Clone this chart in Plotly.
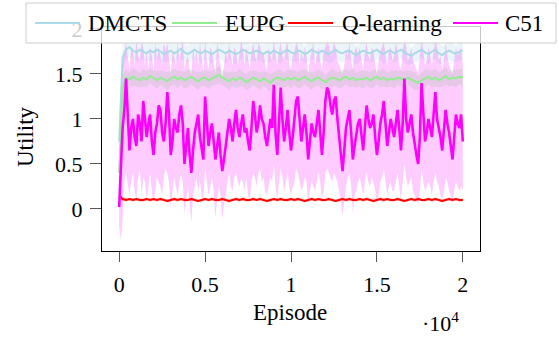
import plotly.graph_objects as go

# ---------------- data ----------------
episodes = [200 * i for i in range(101)]
episodes_c51 = [100 * i for i in range(201)]

dmcts = [0.75, 1.68, 1.77, 1.80, 1.76, 1.74, 1.77, 1.75, 1.73, 1.76,
         1.74, 1.77, 1.75, 1.72, 1.74, 1.76, 1.73, 1.75, 1.78, 1.74,
         1.72, 1.75, 1.77, 1.74, 1.73, 1.76, 1.74, 1.72, 1.75, 1.77,
         1.75, 1.73, 1.76, 1.74, 1.72, 1.74, 1.77, 1.75, 1.73, 1.74,
         1.76, 1.74, 1.72, 1.75, 1.73, 1.76, 1.74, 1.72, 1.75, 1.77,
         1.74, 1.73, 1.76, 1.75, 1.72, 1.74, 1.77, 1.75, 1.73, 1.76,
         1.74, 1.72, 1.75, 1.77, 1.74, 1.73, 1.75, 1.76, 1.73, 1.71,
         1.74, 1.76, 1.74, 1.73, 1.75, 1.77, 1.74, 1.72, 1.75, 1.76,
         1.73, 1.75, 1.77, 1.74, 1.72, 1.70, 1.73, 1.75, 1.77, 1.74,
         1.72, 1.75, 1.77, 1.73, 1.71, 1.74, 1.76, 1.74, 1.72, 1.75,
         1.76]
dmcts_sd = [0.30, 0.15, 0.10, 0.11, 0.09, 0.10, 0.12, 0.09, 0.10, 0.11,
            0.09, 0.10, 0.11, 0.09, 0.10, 0.12, 0.10, 0.09, 0.11, 0.10,
            0.09, 0.11, 0.10, 0.09, 0.12, 0.10, 0.09, 0.11, 0.10, 0.09,
            0.10, 0.11, 0.09, 0.10, 0.12, 0.09, 0.10, 0.11, 0.09, 0.10,
            0.11, 0.09, 0.10, 0.12, 0.10, 0.09, 0.11, 0.10, 0.09, 0.11,
            0.10, 0.09, 0.12, 0.10, 0.09, 0.11, 0.10, 0.09, 0.10, 0.11,
            0.09, 0.10, 0.12, 0.09, 0.10, 0.11, 0.09, 0.10, 0.11, 0.10,
            0.09, 0.11, 0.10, 0.09, 0.12, 0.10, 0.09, 0.11, 0.10, 0.09,
            0.10, 0.11, 0.09, 0.10, 0.12, 0.09, 0.10, 0.11, 0.09, 0.10,
            0.11, 0.09, 0.10, 0.12, 0.10, 0.09, 0.11, 0.10, 0.09, 0.10,
            0.10]

eupg = [0.40, 1.35, 1.46, 1.44, 1.47, 1.45, 1.43, 1.46, 1.44, 1.48,
        1.45, 1.43, 1.46, 1.44, 1.42, 1.45, 1.47, 1.44, 1.46, 1.43,
        1.45, 1.47, 1.44, 1.42, 1.45, 1.46, 1.43, 1.45, 1.47, 1.49,
        1.46, 1.44, 1.42, 1.45, 1.43, 1.46, 1.44, 1.41, 1.44, 1.46,
        1.44, 1.42, 1.45, 1.43, 1.40, 1.44, 1.46, 1.45, 1.43, 1.46,
        1.44, 1.46, 1.43, 1.45, 1.47, 1.44, 1.42, 1.45, 1.46, 1.43,
        1.41, 1.44, 1.46, 1.45, 1.43, 1.45, 1.47, 1.44, 1.46, 1.43,
        1.45, 1.44, 1.46, 1.43, 1.45, 1.47, 1.44, 1.46, 1.43, 1.45,
        1.44, 1.46, 1.45, 1.43, 1.46, 1.44, 1.42, 1.40, 1.43, 1.45,
        1.47, 1.44, 1.46, 1.43, 1.45, 1.48, 1.44, 1.46, 1.45, 1.47,
        1.46]
eupg_sd = [0.20, 0.15, 0.09, 0.08, 0.10, 0.09, 0.08, 0.10, 0.09, 0.08,
           0.09, 0.10, 0.08, 0.09, 0.10, 0.08, 0.09, 0.10, 0.08, 0.09,
           0.10, 0.08, 0.09, 0.10, 0.08, 0.09, 0.10, 0.08, 0.09, 0.10,
           0.08, 0.09, 0.10, 0.08, 0.09, 0.10, 0.08, 0.09, 0.10, 0.08,
           0.09, 0.10, 0.08, 0.09, 0.10, 0.08, 0.09, 0.10, 0.08, 0.09,
           0.10, 0.08, 0.09, 0.10, 0.08, 0.09, 0.10, 0.08, 0.09, 0.10,
           0.08, 0.09, 0.10, 0.08, 0.09, 0.10, 0.08, 0.09, 0.10, 0.08,
           0.09, 0.10, 0.08, 0.09, 0.10, 0.08, 0.09, 0.10, 0.08, 0.09,
           0.10, 0.08, 0.09, 0.10, 0.08, 0.09, 0.10, 0.08, 0.09, 0.10,
           0.08, 0.09, 0.10, 0.08, 0.09, 0.10, 0.08, 0.09, 0.10, 0.08,
           0.09]

qlearn = [0.15, 0.11, 0.10, 0.11, 0.10, 0.11, 0.10, 0.10, 0.11, 0.10,
          0.11, 0.10, 0.11, 0.10, 0.09, 0.10, 0.11, 0.10, 0.11, 0.10,
          0.10, 0.11, 0.10, 0.09, 0.10, 0.11, 0.10, 0.11, 0.10, 0.10,
          0.11, 0.10, 0.09, 0.10, 0.11, 0.10, 0.11, 0.10, 0.10, 0.11,
          0.10, 0.11, 0.10, 0.09, 0.10, 0.11, 0.10, 0.11, 0.10, 0.10,
          0.11, 0.10, 0.11, 0.10, 0.09, 0.10, 0.11, 0.10, 0.11, 0.10,
          0.10, 0.11, 0.10, 0.09, 0.10, 0.11, 0.10, 0.11, 0.10, 0.10,
          0.11, 0.10, 0.11, 0.10, 0.09, 0.10, 0.11, 0.10, 0.11, 0.10,
          0.10, 0.11, 0.10, 0.09, 0.10, 0.11, 0.10, 0.11, 0.10, 0.10,
          0.11, 0.10, 0.11, 0.10, 0.09, 0.10, 0.11, 0.10, 0.11, 0.10,
          0.10]
qlearn_sd = [0.04, 0.02, 0.02, 0.015, 0.02, 0.015, 0.02, 0.02, 0.015, 0.02,
             0.015, 0.02, 0.02, 0.015, 0.02, 0.015, 0.02, 0.02, 0.015, 0.02,
             0.015, 0.02, 0.02, 0.015, 0.02, 0.015, 0.02, 0.02, 0.015, 0.02,
             0.015, 0.02, 0.02, 0.015, 0.02, 0.015, 0.02, 0.02, 0.015, 0.02,
             0.015, 0.02, 0.02, 0.015, 0.02, 0.015, 0.02, 0.02, 0.015, 0.02,
             0.015, 0.02, 0.02, 0.015, 0.02, 0.015, 0.02, 0.02, 0.015, 0.02,
             0.015, 0.02, 0.02, 0.015, 0.02, 0.015, 0.02, 0.02, 0.015, 0.02,
             0.015, 0.02, 0.02, 0.015, 0.02, 0.015, 0.02, 0.02, 0.015, 0.02,
             0.015, 0.02, 0.02, 0.015, 0.02, 0.015, 0.02, 0.02, 0.015, 0.02,
             0.015, 0.02, 0.02, 0.015, 0.02, 0.015, 0.02, 0.02, 0.015, 0.02,
             0.02]

# C51 at finer resolution (every 100 episodes)
c51 = [0.02, 0.55, 0.90, 1.10, 1.45, 1.05, 0.65, 0.90, 1.00, 0.80,
       0.70, 1.05, 0.95, 0.75, 1.20, 1.00, 0.80, 0.95, 1.05, 0.75,
       0.60, 0.85, 0.95, 1.15, 1.10, 0.85, 0.75, 0.95, 1.30, 1.05,
       0.60, 0.75, 1.00, 0.90, 0.85, 1.05, 1.15, 0.95, 0.50, 0.70,
       0.90, 0.60, 0.40, 0.65, 0.85, 0.95, 1.05, 0.80, 0.65, 0.55,
       1.25, 0.95, 0.70, 0.85, 0.95, 0.75, 0.55, 0.70, 0.85, 0.60,
       0.42, 0.55, 0.70, 0.85, 1.00, 0.90, 0.75, 0.95, 1.10, 0.90,
       0.80, 0.95, 1.05, 0.85, 0.90, 0.75, 0.65, 0.90, 1.20, 1.05,
       0.85, 0.95, 1.15, 1.00, 0.95, 0.80, 0.70, 0.85, 1.00, 0.90,
       1.38, 0.85, 0.60, 0.95, 1.35, 1.00, 0.75, 0.90, 1.10, 0.85,
       0.65, 0.80, 1.00, 1.20, 1.25, 0.95, 0.75, 0.90, 1.05, 0.85,
       0.55, 0.75, 0.95, 0.85, 0.80, 0.95, 1.10, 0.85, 0.60, 0.85,
       1.20, 1.35, 1.30, 1.15, 1.05, 1.20, 1.25, 1.00, 0.80, 0.60,
       0.42, 0.65, 0.90, 1.00, 1.10, 0.85, 0.55, 0.70, 0.85, 0.95,
       1.00, 0.80, 0.65, 0.90, 1.15, 1.00, 0.90, 0.95, 1.05, 0.80,
       0.60, 0.75, 0.95, 1.05, 1.20, 0.95, 0.70, 0.85, 1.00, 0.90,
       0.80, 0.95, 1.10, 0.90, 0.65, 0.95, 1.45, 1.00, 0.85, 0.95,
       1.05, 0.85, 0.70, 0.60, 0.50, 0.80, 1.40, 1.00, 0.75, 0.85,
       1.00, 0.90, 0.80, 1.05, 1.30, 1.00, 0.90, 0.80, 0.65, 0.85,
       1.10, 0.95, 0.85, 0.70, 0.55, 0.80, 1.05, 0.95, 0.90, 1.05,
       0.75]
c51_upper = [0.40, 1.20, 1.60, 1.75, 1.85, 1.70, 1.55, 1.80, 1.75, 1.60,
             1.90, 1.70, 1.65, 1.85, 1.80, 1.60, 1.75, 1.55, 1.80, 1.70,
             1.55, 1.85, 1.65, 1.80, 1.70, 1.60, 1.88, 1.75, 1.85, 1.65,
             1.50, 1.75, 1.70, 1.60, 1.85, 1.65, 1.75, 1.90, 1.55, 1.65,
             1.70, 1.55, 1.50, 1.80, 1.65, 1.75, 1.60, 1.85, 1.70, 1.50,
             1.88, 1.65, 1.55, 1.80, 1.75, 1.60, 1.50, 1.85, 1.70, 1.55,
             1.45, 1.60, 1.75, 1.65, 1.85, 1.70, 1.60, 1.80, 1.75, 1.60,
             1.70, 1.90, 1.75, 1.60, 1.80, 1.65, 1.55, 1.75, 1.85, 1.70,
             1.65, 1.85, 1.80, 1.70, 1.75, 1.60, 1.55, 1.80, 1.70, 1.65,
             1.90, 1.70, 1.60, 1.75, 1.88, 1.70, 1.65, 1.80, 1.85, 1.60,
             1.55, 1.70, 1.75, 1.85, 1.80, 1.60, 1.75, 1.65, 1.80, 1.70,
             1.50, 1.65, 1.75, 1.85, 1.60, 1.70, 1.80, 1.65, 1.55, 1.75,
             1.80, 1.90, 1.85, 1.70, 1.75, 1.85, 1.80, 1.65, 1.60, 1.55,
             1.50, 1.60, 1.75, 1.70, 1.85, 1.65, 1.55, 1.75, 1.80, 1.70,
             1.80, 1.65, 1.55, 1.75, 1.85, 1.70, 1.65, 1.80, 1.75, 1.60,
             1.50, 1.65, 1.75, 1.80, 1.88, 1.70, 1.60, 1.75, 1.80, 1.65,
             1.70, 1.85, 1.75, 1.60, 1.55, 1.75, 1.90, 1.80, 1.65, 1.70,
             1.80, 1.65, 1.60, 1.55, 1.50, 1.70, 1.90, 1.75, 1.60, 1.65,
             1.80, 1.70, 1.60, 1.75, 1.88, 1.80, 1.65, 1.70, 1.55, 1.65,
             1.85, 1.70, 1.60, 1.55, 1.50, 1.65, 1.80, 1.70, 1.75, 1.80,
             1.60]
c51_lower = [-0.20, -0.35, -0.10, 0.30, 0.40, 0.25, 0.15, 0.30, 0.40, 0.20,
             0.10, 0.35, 0.45, 0.15, 0.35, 0.30, 0.10, 0.25, 0.40, 0.20,
             0.05, 0.20, 0.35, 0.30, 0.25, 0.15, 0.35, 0.45, 0.40, 0.30,
             0.00, 0.20, 0.35, 0.25, 0.15, 0.30, 0.40, 0.30, -0.05, 0.10,
             0.25, 0.05, -0.15, 0.15, 0.25, 0.35, 0.20, 0.30, 0.15, 0.10,
             0.45, 0.30, 0.15, 0.25, 0.35, 0.20, -0.10, 0.10, 0.25, 0.15,
             -0.12, 0.05, 0.15, 0.30, 0.40, 0.25, 0.20, 0.35, 0.40, 0.30,
             0.25, 0.35, 0.30, 0.20, 0.35, 0.15, 0.10, 0.30, 0.40, 0.35,
             0.25, 0.40, 0.45, 0.30, 0.35, 0.20, 0.15, 0.25, 0.35, 0.30,
             0.50, 0.25, 0.10, 0.30, 0.45, 0.35, 0.20, 0.30, 0.40, 0.25,
             0.15, 0.25, 0.30, 0.45, 0.40, 0.30, 0.20, 0.25, 0.35, 0.30,
             0.05, 0.20, 0.30, 0.25, 0.20, 0.30, 0.40, 0.30, 0.10, 0.20,
             0.40, 0.45, 0.40, 0.35, 0.30, 0.40, 0.35, 0.30, 0.20, 0.10,
             -0.08, 0.10, 0.25, 0.35, 0.40, 0.25, -0.05, 0.15, 0.20, 0.30,
             0.35, 0.25, 0.15, 0.30, 0.40, 0.30, 0.25, 0.35, 0.30, 0.20,
             0.05, 0.15, 0.30, 0.35, 0.45, 0.30, 0.15, 0.25, 0.30, 0.20,
             0.20, 0.30, 0.40, 0.25, 0.10, 0.30, 0.50, 0.35, 0.25, 0.30,
             0.35, 0.20, 0.15, 0.10, 0.05, 0.20, 0.45, 0.30, 0.20, 0.25,
             0.30, 0.25, 0.15, 0.30, 0.40, 0.30, 0.25, 0.15, 0.10, 0.20,
             0.35, 0.30, 0.20, 0.15, 0.08, 0.20, 0.30, 0.25, 0.20, 0.25,
             0.20]

x_tickvals = [0, 5000, 10000, 15000, 20000]
x_ticktext = ["0", "0.5", "1", "1.5", "2"]
series_names = ["DMCTS", "EUPG", "Q-learning", "C51"]

# ---------------- styling ----------------
FONT = "Liberation Serif"
W, H = 559, 337
L, R, T, B = 102, 79, 27, 86
PW, PH = W - L - R, H - T - B
line_colors = ["#add8e6", "#90ee90", "#ff0000", "#ff00ff"]
band_colors = ["rgba(173,216,230,0.25)", "rgba(144,238,144,0.25)",
               "rgba(255,0,0,0.2)", "rgba(255,0,255,0.2)"]
line_widths = [2, 2, 2, 2.6]


def px2paper(x, y):
    return (x - L) / PW, (H - B - y) / PH


fig = go.Figure()

series = [
    (episodes, [m - s for m, s in zip(dmcts, dmcts_sd)], [m + s for m, s in zip(dmcts, dmcts_sd)], dmcts),
    (episodes, [m - s for m, s in zip(eupg, eupg_sd)], [m + s for m, s in zip(eupg, eupg_sd)], eupg),
    (episodes, [m - s for m, s in zip(qlearn, qlearn_sd)], [m + s for m, s in zip(qlearn, qlearn_sd)], qlearn),
    (episodes_c51, c51_lower, c51_upper, c51),
]

# bands first
for k, (xs, lo, hi, mean) in enumerate(series):
    fig.add_trace(go.Scatter(x=xs, y=lo, mode="lines", line=dict(width=0),
                             showlegend=False, hoverinfo="skip"))
    fig.add_trace(go.Scatter(x=xs, y=hi, mode="lines", line=dict(width=0),
                             fill="tonexty", fillcolor=band_colors[k],
                             showlegend=False, hoverinfo="skip"))
# then mean lines
for k, (xs, lo, hi, mean) in enumerate(series):
    fig.add_trace(go.Scatter(x=xs, y=mean, mode="lines", name=series_names[k],
                             line=dict(color=line_colors[k], width=line_widths[k]),
                             showlegend=False))

# ---------------- custom legend ----------------
shapes = []
annotations = []
bx0, by0 = px2paper(26, 43)
bx1, by1 = px2paper(556, 3)
shapes.append(dict(type="rect", xref="paper", yref="paper", x0=bx0, y0=by0, x1=bx1, y1=by1,
                   fillcolor="rgba(255,255,255,0.78)", line=dict(color="#cccccc", width=1),
                   layer="above"))
leg_line_x = [35, 172, 288, 453]
leg_text_x = [86, 223, 340, 503]
leg_y = 23
for k in range(4):
    x0, y0 = px2paper(leg_line_x[k], leg_y)
    x1, _ = px2paper(leg_line_x[k] + 45, leg_y)
    shapes.append(dict(type="line", xref="paper", yref="paper", x0=x0, y0=y0, x1=x1, y1=y0,
                       line=dict(color=line_colors[k], width=2), layer="above"))
    tx, ty = px2paper(leg_text_x[k], leg_y)
    annotations.append(dict(text=series_names[k], xref="paper", yref="paper", x=tx, y=ty,
                            xanchor="left", yanchor="middle", showarrow=False,
                            font=dict(family=FONT, size=23, color="black")))

# axis titles
ax, ay = px2paper(25, 137)
annotations.append(dict(text="Utility", xref="paper", yref="paper", x=ax, y=ay, textangle=-90,
                        xanchor="center", yanchor="middle", showarrow=False,
                        font=dict(family=FONT, size=23, color="black")))
ex, ey = px2paper(290, 312)
annotations.append(dict(text="Episode", xref="paper", yref="paper", x=ex, y=ey,
                        xanchor="center", yanchor="middle", showarrow=False,
                        font=dict(family=FONT, size=23, color="black")))
sx, sy = px2paper(440, 322)
annotations.append(dict(text="·10<sup>4</sup>", xref="paper", yref="paper", x=sx, y=sy,
                        xanchor="center", yanchor="middle", showarrow=False,
                        font=dict(family=FONT, size=22, color="black")))

fig.update_layout(
    width=W, height=H,
    margin=dict(l=L, r=R, t=T, b=B, pad=0),
    paper_bgcolor="white", plot_bgcolor="white",
    showlegend=False,
    font=dict(family=FONT, size=21, color="black"),
    shapes=shapes, annotations=annotations,
    xaxis=dict(range=[-1000, 21000], tickvals=x_tickvals, ticktext=x_ticktext,
               showgrid=False, zeroline=False, showline=True, linecolor="black", linewidth=1.2,
               mirror=True, ticks="outside", ticklen=10, tickcolor="#555", tickwidth=1.2,
               ticklabelstandoff=3,
               tickfont=dict(family=FONT, size=22, color="black")),
    yaxis=dict(range=[-0.467, 2.022], tick0=0, dtick=0.5,
               showgrid=False, zeroline=False, showline=True, linecolor="black", linewidth=1.2,
               mirror=True, ticks="outside", ticklen=11, tickcolor="#555", tickwidth=1.2,
               ticklabelstandoff=3,
               tickfont=dict(family=FONT, size=22, color="black")),
)

fig.write_html("out.html", config={"displayModeBar": False},
               post_script="document.body.style.margin='0';")
